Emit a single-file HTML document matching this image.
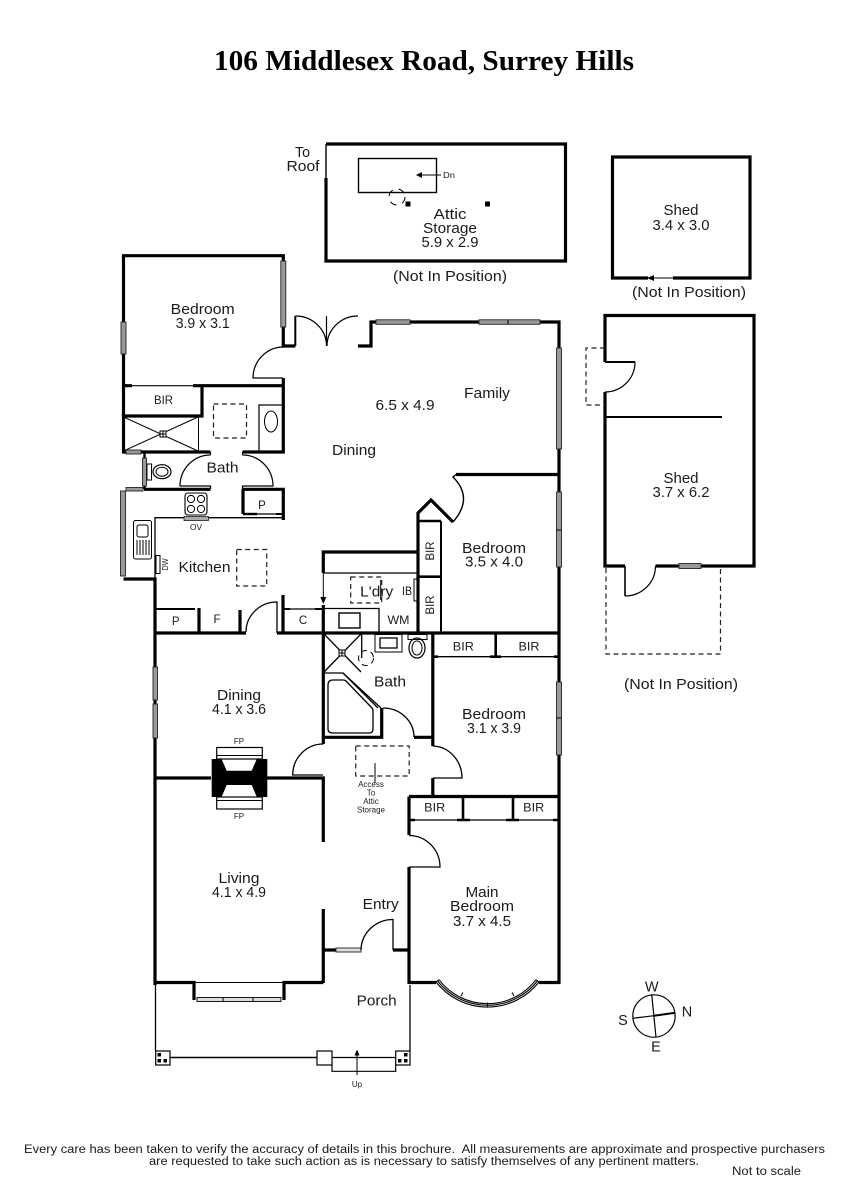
<!DOCTYPE html>
<html>
<head>
<meta charset="utf-8">
<style>
html,body{margin:0;padding:0;background:#fff}
svg{display:block}
text{font-family:"Liberation Sans",sans-serif;fill:#1a1a1a;text-anchor:middle;font-size:14.5px}
.s{font-size:8px}
.m{font-size:11.5px}
.t{font-family:"Liberation Serif",serif;font-weight:bold;font-size:28px;fill:#000}
.f{font-size:11.5px}
.w{fill:none;stroke:#000;stroke-width:3.2}
.b{fill:none;stroke:#000;stroke-width:2}
.l{fill:none;stroke:#000;stroke-width:1}
.d{fill:none;stroke:#222;stroke-width:1.2;stroke-dasharray:5 3.5}
.g{fill:#999;stroke:#222;stroke-width:.9}
</style>
</head>
<body>
<svg width="848" height="1200" viewBox="0 0 848 1200" xmlns="http://www.w3.org/2000/svg">
<rect width="848" height="1200" fill="#fff"/>
<text class="t" x="424" y="70" textLength="420" lengthAdjust="spacingAndGlyphs">106 Middlesex Road, Surrey Hills</text>

<!-- Attic -->
<path class="w" d="M326 178V261H565.5V144H326"/>
<path class="b" d="M326 144V178" style="stroke-width:1.4"/>
<rect class="b" x="358.5" y="158.5" width="78" height="34" style="stroke-width:1.4"/>
<path class="l" d="M441 175H420"/>
<path d="M416 175l6-3v6z" fill="#000"/>
<rect x="405.5" y="201.5" width="5" height="5" fill="#000"/>
<rect x="485" y="201.5" width="5" height="5" fill="#000"/>
<circle class="l" cx="397" cy="197" r="8" stroke-dasharray="7 6"/>
<text x="302.5" y="157" textLength="15" lengthAdjust="spacingAndGlyphs">To</text>
<text x="303" y="171" textLength="33" lengthAdjust="spacingAndGlyphs">Roof</text>
<text class="s" x="449" y="178" textLength="12" lengthAdjust="spacingAndGlyphs">Dn</text>
<text x="450" y="219" textLength="33" lengthAdjust="spacingAndGlyphs">Attic</text>
<text x="450" y="233" textLength="54" lengthAdjust="spacingAndGlyphs">Storage</text>
<text x="450" y="247" textLength="57" lengthAdjust="spacingAndGlyphs">5.9 x 2.9</text>
<text x="450" y="281" textLength="114" lengthAdjust="spacingAndGlyphs">(Not In Position)</text>

<!-- Small shed -->
<path class="w" d="M648 278H612.5V157H750V278H673"/>
<path class="l" d="M648 278H673"/>
<path d="M647 278l7-3v6z" fill="#000"/>
<text x="681" y="215" textLength="35" lengthAdjust="spacingAndGlyphs">Shed</text>
<text x="681" y="230" textLength="57" lengthAdjust="spacingAndGlyphs">3.4 x 3.0</text>
<text x="689" y="297" textLength="114" lengthAdjust="spacingAndGlyphs">(Not In Position)</text>

<!-- Large shed -->
<path class="w" d="M605 362V315.5H754V566H701M679 566H655.5M625 566H605V392"/>
<path class="b" d="M605 362H635M605 417H722"/>
<path class="b" d="M625 566V596" style="stroke-width:1.6"/>
<path class="l" d="M635 362A30 30 0 0 1 605 392M625 596A30.500 30 0 0 0 655.500 566" style="stroke-width:1.2"/>
<rect class="g" x="679" y="563.500" width="22" height="5"/>
<path class="d" d="M605 348H586V405H605"/>
<path class="d" d="M606 568V654H720.500V568"/>
<text x="681" y="483" textLength="35" lengthAdjust="spacingAndGlyphs">Shed</text>
<text x="681" y="497" textLength="57" lengthAdjust="spacingAndGlyphs">3.7 x 6.2</text>
<text x="681" y="689" textLength="114" lengthAdjust="spacingAndGlyphs">(Not In Position)</text>

<!-- Rear bedroom -->
<path class="w" d="M123.500 416V255.700H283.300V346H295.300"/>
<path class="b" d="M295.300 346V316"/>
<path class="l" d="M295.300 316A31 30 0 0 1 326.500 346V316M358 316A31 30 0 0 0 327 346" style="stroke-width:1.2"/>
<rect class="g" x="280.800" y="261" width="5" height="66"/>
<rect class="g" x="121" y="322" width="5" height="32"/>
<path class="l" d="M283.300 347A30.500 31 0 0 0 253 378H283" style="stroke-width:1.2"/>
<path class="w" d="M283.300 378V452H242.500M210.500 452H123.500V416H202V385.700H283M193 385.700H202M123.500 385.700H132"/>
<path class="b" d="M132 385.700H193" style="stroke-width:1.2"/>
<path class="l" d="M198.500 416V452M123.500 417L198 451M198 417L123.500 451"/>
<rect x="160" y="431" width="6" height="6" fill="#fff" stroke="#000" stroke-width="1"/>
<path class="l" d="M163 431v6M160 434h6"/>
<rect class="g" x="126" y="450" width="15" height="4"/>
<rect class="d" x="213.500" y="404" width="33" height="34"/>
<rect class="l" x="259" y="405" width="24" height="47" style="stroke-width:1.2"/>
<ellipse class="l" cx="271" cy="421.500" rx="6.500" ry="10.500"/>
<text x="202.700" y="314" textLength="64" lengthAdjust="spacingAndGlyphs">Bedroom</text>
<text x="202.700" y="328" textLength="54" lengthAdjust="spacingAndGlyphs">3.9 x 3.1</text>
<text class="m" x="163.500" y="404" textLength="19" lengthAdjust="spacingAndGlyphs">BIR</text>

<!-- Bath 1 -->
<path class="b" d="M144.500 452V489" style="stroke-width:2.400"/>
<rect class="g" x="142.500" y="458" width="4" height="28"/>
<rect class="l" x="147" y="464" width="4.500" height="16"/>
<ellipse class="l" cx="162" cy="471.700" rx="9" ry="7" style="stroke-width:1.2"/>
<ellipse class="l" cx="162" cy="471.700" rx="6" ry="4.500"/>
<path class="l" d="M210.500 455A30.500 31 0 0 0 180 486H210.500V489M242.500 455A30.500 31 0 0 1 273 486H242.500V489M210.500 452V455M242.500 452V455" style="stroke-width:1.200"/>
<text x="222.500" y="472.700" textLength="32" lengthAdjust="spacingAndGlyphs">Bath</text>

<!-- Kitchen -->
<path class="w" d="M144 489.300H210.500M242.500 489.300H283.300V520M243 489.300V514"/>
<path class="b" d="M243 514H257" style="stroke-width:2.400"/>
<path class="l" d="M257 514H276" style="stroke-width:1.200"/>
<path class="b" d="M276 514H283" />
<rect class="g" x="126" y="487.500" width="17" height="3.500"/>
<rect class="g" x="120.500" y="491" width="5" height="85"/>
<path class="w" d="M123.500 579H155V605"/>
<path class="l" d="M155 579V517.700H283" style="stroke-width:1.300"/>
<rect x="185" y="493" width="22" height="22" rx="3" fill="#fff" stroke="#000" stroke-width="1.100"/>
<circle class="l" cx="191" cy="499" r="3.600"/><circle class="l" cx="201" cy="499" r="3.600"/>
<circle class="l" cx="191" cy="509" r="3.600"/><circle class="l" cx="201" cy="509" r="3.600"/>
<rect x="184" y="516.500" width="24.500" height="4" fill="#aaa" stroke="#000" stroke-width=".7"/>
<text class="s" x="196" y="530" textLength="12" lengthAdjust="spacingAndGlyphs">OV</text>
<rect class="l" x="133.500" y="520.500" width="18" height="38.500" rx="2"/>
<rect class="l" x="137" y="525" width="11" height="12" rx="2"/>
<path class="l" d="M137 540v15M140 540v15M143 540v15M146 540v15M149 540v15"/>
<rect class="l" x="156" y="555.500" width="4" height="18"/>
<text class="s" transform="translate(168,564.500) rotate(-90)" x="0" y="0" textLength="12" lengthAdjust="spacingAndGlyphs">DW</text>
<rect class="d" x="236.700" y="549.500" width="30" height="36.500"/>
<text x="204.500" y="572" textLength="52" lengthAdjust="spacingAndGlyphs">Kitchen</text>

<path class="w" d="M155 605V985"/>
<rect class="g" x="153" y="667" width="4.500" height="33"/>
<rect class="g" x="153" y="704" width="4.500" height="34"/>
<path class="b" d="M155 609H195"/>
<path class="w" d="M199 608V633"/>
<path class="w" d="M240 610V633"/>
<path class="w" d="M283 595V633"/>
<path class="w" d="M155 633H246M277 633H559"/>
<path class="l" d="M246 632A31 30 0 0 1 277 602V633" style="stroke-width:1.300"/>
<path class="b" d="M283 609H290" /><path class="l" d="M290 609H315" style="stroke-width:1.300"/><path class="b" d="M315 609H323"/>
<text class="m" x="175.700" y="625">P</text>
<text class="m" x="217" y="623">F</text>
<text class="m" x="303" y="624">C</text>
<text class="m" x="262" y="509">P</text>

<!-- L'dry -->
<path class="w" d="M323.300 573V552H418"/>
<path class="l" d="M323.300 573H418" style="stroke-width:1.300"/>
<path class="l" d="M323.300 573V598"/>
<path d="M323.300 604l-3-7h6z" fill="#000"/>
<path class="w" d="M323.300 605V744"/>
<path class="l" d="M323.300 608.500H379V633" style="stroke-width:1.300"/>
<rect class="l" x="339" y="613" width="21" height="15" style="stroke-width:1.400"/>
<rect class="d" x="350.700" y="577" width="31" height="26"/>
<path class="l" d="M380.700 580V600"/>
<rect class="l" x="414" y="579" width="3" height="22"/>
<text x="376.700" y="596.700" textLength="33" lengthAdjust="spacingAndGlyphs">L'dry</text>
<text class="m" x="407" y="595" textLength="10" lengthAdjust="spacingAndGlyphs">IB</text>
<text class="m" x="398.500" y="624" textLength="22" lengthAdjust="spacingAndGlyphs">WM</text>

<!-- Bedroom 3.5 -->
<path class="w" d="M418 633V513L431 500L453 522"/>
<path class="l" d="M453 522Q474 498 453 477L456 474.500" style="stroke-width:1.400"/>
<path class="w" d="M456 474.500H559"/>
<path class="w" d="M418 521H441M418 576.700H441" style="stroke-width:2.600"/>
<path class="b" d="M441 521V633"/>
<text class="m" transform="translate(434,551) rotate(-90)" textLength="19" lengthAdjust="spacingAndGlyphs">BIR</text>
<text class="m" transform="translate(434,605) rotate(-90)" textLength="19" lengthAdjust="spacingAndGlyphs">BIR</text>
<text x="494" y="553" textLength="64" lengthAdjust="spacingAndGlyphs">Bedroom</text>
<text x="494" y="566.700" textLength="58" lengthAdjust="spacingAndGlyphs">3.5 x 4.0</text>

<!-- Family/dining -->
<path class="w" d="M358 346H371V322H559V984"/>
<rect x="376" y="319.800" width="34" height="4.500" class="g"/>
<rect x="479" y="319.800" width="61" height="4.500" class="g"/>
<path class="l" d="M508 320v4"/>
<rect class="g" x="556.500" y="348" width="5" height="101"/>
<rect class="g" x="556.500" y="492" width="5" height="75"/>
<path class="l" d="M556.500 530h5"/>
<rect class="g" x="556.500" y="682" width="5" height="73"/>
<path class="l" d="M556.500 718h5"/>
<text x="354" y="455" textLength="44" lengthAdjust="spacingAndGlyphs">Dining</text>
<text x="405" y="410" textLength="59" lengthAdjust="spacingAndGlyphs">6.5 x 4.9</text>
<text x="487" y="398" textLength="46" lengthAdjust="spacingAndGlyphs">Family</text>

<!-- Bath 2 -->
<path class="l" d="M361.700 634V658M324 634L361 672M361 634L324 672M324 673H343L381 708" style="stroke-width:1.300"/>
<rect x="339" y="650" width="6" height="6" fill="#fff" stroke="#000"/>
<path class="l" d="M342 650v6M339 653h6"/>
<path class="l" d="M343 673L378 708" style="stroke-width:1.300"/>
<path d="M333 680H343.500Q345 680 346 681L372 708Q373 709 373 711V729Q373 733 369 733H333Q328 733 328 729V685Q328 680 333 680Z" class="l" style="stroke-width:1.300"/>
<path class="w" d="M381.700 708V737.300H323.300"/>
<path class="w" d="M414 737.300H433"/>
<path class="l" d="M383 708A31 29 0 0 1 414 737" style="stroke-width:1.300"/>
<circle class="l" cx="366" cy="658" r="7.500" stroke-dasharray="6 4"/>
<rect class="l" x="375" y="634.500" width="27" height="17.500"/>
<rect class="l" x="380" y="638" width="17" height="10" style="stroke-width:1.300"/>
<rect class="l" x="408" y="634.500" width="19" height="5"/>
<ellipse class="l" cx="417" cy="648" rx="8" ry="10" style="stroke-width:1.200"/>
<ellipse class="l" cx="417" cy="648" rx="5" ry="7"/>
<text x="390" y="686.700" textLength="32" lengthAdjust="spacingAndGlyphs">Bath</text>

<!-- Bedroom 3.1 -->
<path class="w" d="M432.800 633V737M432.800 737V746"/>
<path class="w" d="M495.700 633V657" style="stroke-width:2.600"/>
<path class="l" d="M433 656.700H559" style="stroke-width:1.300"/>
<path class="w" d="M433 656.700H438M490 656.700H501M554 656.700H559" style="stroke-width:2.600"/>
<text class="m" x="463.300" y="650.700" textLength="21" lengthAdjust="spacingAndGlyphs">BIR</text>
<text class="m" x="529" y="650.700" textLength="21" lengthAdjust="spacingAndGlyphs">BIR</text>
<text x="494" y="719" textLength="64" lengthAdjust="spacingAndGlyphs">Bedroom</text>
<text x="494" y="733" textLength="54" lengthAdjust="spacingAndGlyphs">3.1 x 3.9</text>

<!-- Hall -->
<path class="l" d="M323.300 744A30.500 31 0 0 0 292.700 775H323" style="stroke-width:1.300"/>
<path class="l" d="M432.800 746A30 32 0 0 1 462 778H433" style="stroke-width:1.300"/>
<path class="w" d="M432.800 778V797"/>
<rect class="d" x="355.700" y="746" width="53.500" height="30"/>
<path class="l" d="M375 763V783"/>
<text class="s" x="371" y="787">Access</text>
<text class="s" x="371" y="795.500">To</text>
<text class="s" x="371" y="804">Attic</text>
<text class="s" x="371" y="812.500">Storage</text>

<!-- Fireplace / Dining / Living -->
<path class="w" d="M155 778H211M267 778H323.300V842M323.300 909V983"/>
<rect x="211.700" y="759" width="55.600" height="38" fill="#000"/>
<path fill="#fff" d="M221.700 759.300H256.700L251.700 770.700H226.700ZM226.700 785H251.700L256.700 796.700H221.700Z"/>
<rect class="l" x="216.700" y="747.500" width="45.600" height="11.500" style="stroke-width:1.200"/>
<path class="l" d="M216.700 755.500H262.300M216.700 800.500H262.300"/>
<rect class="l" x="216.700" y="797" width="45.600" height="12" style="stroke-width:1.200"/>
<text class="s" x="239" y="744">FP</text>
<text class="s" x="239" y="819">FP</text>
<text x="239" y="700" textLength="44" lengthAdjust="spacingAndGlyphs">Dining</text>
<text x="239" y="714" textLength="54" lengthAdjust="spacingAndGlyphs">4.1 x 3.6</text>
<text x="239" y="883" textLength="41" lengthAdjust="spacingAndGlyphs">Living</text>
<text x="239" y="897" textLength="54" lengthAdjust="spacingAndGlyphs">4.1 x 4.9</text>
<text x="380.700" y="909" textLength="36" lengthAdjust="spacingAndGlyphs">Entry</text>

<!-- BIRs over main bedroom -->
<path class="w" d="M409 796.500H559M409 796.500V835M409 867V984"/>
<path class="w" d="M463 796.500V820M513 796.500V820" style="stroke-width:2.600"/>
<path class="l" d="M409 820H559" style="stroke-width:1.300"/>
<path class="w" d="M409 820H415M457 820H470M506 820H519M553 820H559" style="stroke-width:2.400"/>
<path class="l" d="M409 835.500A31 31.500 0 0 1 440 867H409" style="stroke-width:1.300"/>
<text class="m" x="434.700" y="811.700" textLength="21" lengthAdjust="spacingAndGlyphs">BIR</text>
<text class="m" x="533.700" y="811.700" textLength="21" lengthAdjust="spacingAndGlyphs">BIR</text>
<text x="482" y="897" textLength="33" lengthAdjust="spacingAndGlyphs">Main</text>
<text x="482" y="911" textLength="64" lengthAdjust="spacingAndGlyphs">Bedroom</text>
<text x="482" y="926" textLength="58" lengthAdjust="spacingAndGlyphs">3.7 x 4.5</text>

<!-- Entry -->
<path class="w" d="M323.300 950H336M393 950H409"/>
<rect class="g" x="336" y="948" width="25" height="4" style="fill:#ddd"/>
<path class="l" d="M361 950A32 31 0 0 1 393 919.500V950" style="stroke-width:1.300"/>

<!-- Living bottom + bay -->
<path class="w" d="M155 982.500H194V1000M284 1000V982.500H323.300"/>
<path class="l" d="M194 982.500H284"/>
<rect x="197" y="997.500" width="84" height="4" fill="#ddd" stroke="#000" stroke-width=".9"/>
<path class="l" d="M223 997.500v4M253 997.500v4"/>

<!-- Main bedroom bottom + bay -->
<path class="w" d="M409 982.500H436M539 982.500H560"/>
<path class="l" d="M436 982A65.500 65.500 0 0 0 539 982M437.500 980.900A63.500 63.500 0 0 0 537.500 980.900M439 979.700A61 61 0 0 0 536 979.700" style="stroke-width:1.100"/>
<path class="l" d="M436 982L439 979.700M539 982L536 979.700M461 996L463 992.500M487.500 1002.500V1007M514 996L512 992.500"/>

<!-- Porch -->
<path class="l" d="M155.500 985V1051M410 985V1051" style="stroke-width:1.300"/>
<path class="l" d="M170 1057.500H317" style="stroke-width:1.400"/>
<rect class="l" x="155.700" y="1051" width="14.300" height="14" style="stroke-width:1.200"/>
<rect x="157.500" y="1053" width="3.500" height="3.500" fill="#000"/>
<rect x="157.500" y="1059" width="3.500" height="3.500" fill="#000"/>
<rect x="163.500" y="1059" width="3.500" height="3.500" fill="#000"/>
<rect class="l" x="317" y="1051" width="15" height="14" style="stroke-width:1.200"/>
<path class="l" d="M332 1057.500H395.700M332 1065V1071.300H395.700V1065" style="stroke-width:1.200"/>
<rect class="l" x="395.700" y="1051" width="14.300" height="14" style="stroke-width:1.200"/>
<rect x="404" y="1053" width="3.500" height="3.500" fill="#000"/>
<rect x="398" y="1059" width="3.500" height="3.500" fill="#000"/>
<rect x="404" y="1059" width="3.500" height="3.500" fill="#000"/>
<path class="l" d="M357 1075V1054"/>
<path d="M357 1049.500l-2.500 6h5z" fill="#000"/>
<text class="s" x="357" y="1087">Up</text>
<text x="376.700" y="1005.700" textLength="40" lengthAdjust="spacingAndGlyphs">Porch</text>

<!-- Compass -->
<circle class="l" cx="654" cy="1016" r="21.200" style="stroke-width:1.200"/>
<path class="l" d="M651.700 994.300L656 1037.300M632.700 1018.300L654 1015.700" style="stroke-width:1.200"/>
<path class="b" d="M654 1015.700L675.300 1012.700"/>
<text x="651.700" y="991.700">W</text>
<text x="687" y="1016.700">N</text>
<text x="623" y="1025">S</text>
<text x="656" y="1051.700">E</text>

<!-- Footer -->
<text class="f" x="424.500" y="1153" textLength="801" lengthAdjust="spacingAndGlyphs" xml:space="preserve">Every care has been taken to verify the accuracy of details in this brochure.  All measurements are approximate and prospective purchasers</text>
<text class="f" x="424" y="1165" textLength="550" lengthAdjust="spacingAndGlyphs">are requested to take such action as is necessary to satisfy themselves of any pertinent matters.</text>
<text class="f" x="766.500" y="1175" textLength="69" lengthAdjust="spacingAndGlyphs">Not to scale</text>
</svg>
</body>
</html>
